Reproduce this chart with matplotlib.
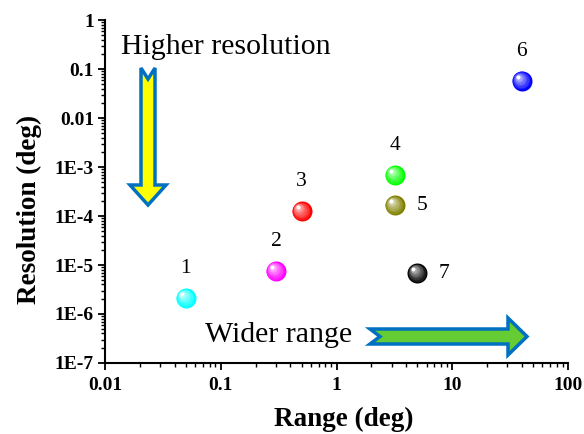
import numpy as np
import matplotlib.pyplot as plt
import matplotlib.colors as mcolors
from matplotlib.patches import Polygon
from matplotlib.transforms import offset_copy

plt.rcParams['font.family'] = ['Liberation Serif', 'DejaVu Serif']

# data
point_labels = ["1", "2", "3", "4", "5", "6", "7"]
ranges = [0.05, 0.3, 0.5, 3.2, 3.2, 40, 5]
resolutions = [2.1e-6, 7.5e-6, 1.25e-4, 6.8e-4, 1.65e-4, 0.057, 6.8e-6]
colors = ["#00FFFF", "#FF00FF", "#FF0000", "#00FF00", "#808000", "#0000FF", "#000000"]
label_pos = ["top", "top", "top", "top", "right", "top", "right"]

xticks = [0.01, 0.1, 1, 10, 100]
xtick_labels = ["0.01", "0.1", "1", "10", "100"]
yticks = [1e-7, 1e-6, 1e-5, 1e-4, 1e-3, 0.01, 0.1, 1]
ytick_labels = ["1E-7", "1E-6", "1E-5", "1E-4", "1E-3", "0.01", "0.1", "1"]

fig = plt.figure(figsize=(5.84, 4.34), dpi=100)
ax = fig.add_axes([0.1798, 0.1636, 0.7928, 0.7903])
ax.set_xscale("log")
ax.set_yscale("log")
ax.set_xlim(0.01, 100)
ax.set_ylim(1e-7, 1)

for s in ["top", "right"]:
    ax.spines[s].set_visible(False)
for s in ["left", "bottom"]:
    ax.spines[s].set_linewidth(1.5)

ax.set_xticks(xticks)
ax.set_xticklabels(xtick_labels)
ax.set_yticks(yticks)
ax.set_yticklabels(ytick_labels)
ax.tick_params(which="major", length=5, width=1.3, labelsize=14, pad=3)
ax.tick_params(axis="x", which="major", pad=5)
ax.tick_params(which="minor", length=3, width=1.0)
for t in ax.get_xticklabels() + ax.get_yticklabels():
    t.set_fontweight("bold")

ax.set_xlabel("Range (deg)", fontsize=19.5, fontweight="bold")
ax.set_ylabel("Resolution (deg)", fontsize=19.5, fontweight="bold")
ax.xaxis.set_label_coords(0.516, -0.128)
ax.yaxis.set_label_coords(-0.164, 0.449)
ax.yaxis.label.set_va("center")

# shaded spheres
d = 14.4
for x, y, c in zip(ranges, resolutions, colors):
    base = np.array(mcolors.to_rgb(c))
    n = 8
    for i in range(n):
        t = i / (n - 1)
        col = base * (1 - 0.75 * t) + np.ones(3) * 0.75 * t
        if i == n - 1:
            col = np.ones(3)
        size = d * (1 - 0.8 * t)
        off = d * 0.2 * t
        tr = offset_copy(ax.transData, fig=fig, x=-off, y=off, units="points")
        ax.plot([x], [y], "o", color=col, markersize=size,
                markeredgewidth=0, transform=tr, zorder=3 + i * 0.01)

for x, y, lab, pos in zip(ranges, resolutions, point_labels, label_pos):
    if pos == "top":
        ax.annotate(lab, (x, y), xytext=(0, 21.5), textcoords="offset points",
                    ha="center", va="center", fontsize=15.5)
    else:
        ax.annotate(lab, (x, y), xytext=(19.5, 0), textcoords="offset points",
                    ha="center", va="center", fontsize=15.5)

# annotation arrows, drawn in pixel positions of the picture
def px(x, y):
    return ((x - 105) / 463.0, (363 - y) / 343.0)

down = [px(141, 68), px(148, 79), px(155, 68), px(155, 185), px(166, 185),
        px(148, 205), px(130, 185), px(141, 185)]
ax.add_patch(Polygon(down, closed=True, facecolor="#FFFF00", edgecolor="#0070C0",
                     linewidth=2.5, transform=ax.transAxes, clip_on=False, zorder=4))

right = [px(370, 329), px(508, 329), px(508, 318), px(527, 336.5), px(508, 355),
         px(508, 344), px(370, 344), px(380, 336.5)]
ax.add_patch(Polygon(right, closed=True, facecolor="#66CC33", edgecolor="#0070C0",
                     linewidth=2.5, transform=ax.transAxes, clip_on=False, zorder=4))

ax.text(*px(121, 54), "Higher resolution", transform=ax.transAxes,
        fontsize=21.5, ha="left", va="baseline")
ax.text(*px(205, 342), "Wider range", transform=ax.transAxes,
        fontsize=21.5, ha="left", va="baseline")

fig.savefig("out.png", dpi=100)
